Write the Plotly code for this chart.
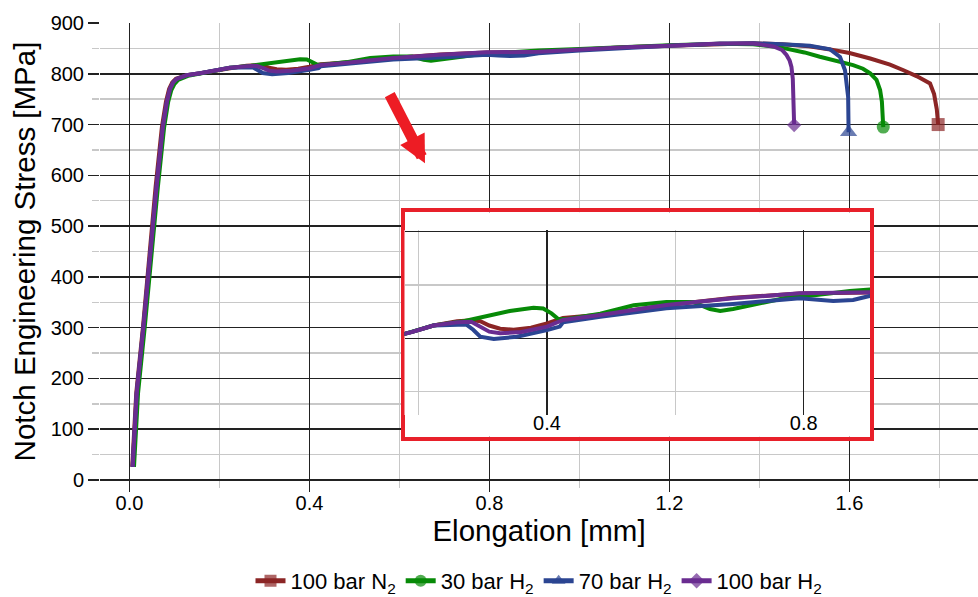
import plotly.graph_objects as go

# ---------------- data ----------------
names = ["100 bar N<sub>2</sub>", "30 bar H<sub>2</sub>", "70 bar H<sub>2</sub>", "100 bar H<sub>2</sub>"]
colors = ["#8B2525", "#078A07", "#2B4592", "#6A2C90"]
symbols = ["square", "circle", "triangle-up", "diamond"]
end_sizes = [13, 13, 15, 11]

n2_x = [0.006, 0.015, 0.030, 0.045, 0.058, 0.072, 0.081, 0.088, 0.095, 0.103, 0.127, 0.157, 0.190, 0.223,
        0.260, 0.285, 0.296, 0.310, 0.327, 0.348, 0.375, 0.400, 0.425, 0.483, 0.586, 0.690, 0.794, 0.909,
        1.000, 1.100, 1.201, 1.312, 1.386, 1.450, 1.510, 1.557, 1.600, 1.646, 1.690, 1.720, 1.750, 1.779,
        1.788, 1.794, 1.797]
n2_s = [26, 171, 302, 453, 577, 695, 745, 770, 783, 790, 797, 801, 806, 812,
        816, 817, 816, 812, 809, 808, 810, 814, 819, 822, 831, 838, 842, 843,
        848, 852, 855, 859, 860, 858, 854, 848, 841, 830, 818, 807, 795, 781,
        760, 730, 700]

h30_x = [0.010, 0.019, 0.034, 0.049, 0.063, 0.077, 0.086, 0.093, 0.100, 0.108, 0.130, 0.160, 0.190, 0.223,
         0.270, 0.301, 0.342, 0.379, 0.394, 0.407, 0.418, 0.430, 0.483, 0.535, 0.586, 0.628, 0.654, 0.670,
         0.690, 0.742, 0.773, 0.820, 0.872, 0.909, 1.000, 1.100, 1.200, 1.312, 1.386, 1.446, 1.500, 1.534,
         1.575, 1.608, 1.630, 1.646, 1.660, 1.668, 1.672, 1.674, 1.675]
h30_s = [26, 171, 302, 453, 577, 695, 745, 768, 780, 788, 796, 801, 806, 812,
         816, 820, 825.6, 828.7, 828, 823.4, 817.8, 818, 823, 831, 834, 834, 827.5, 825.6,
         827.5, 834, 838, 840.6, 844.4, 846, 849, 853, 856, 859, 858, 852, 842, 833.5,
         825, 817, 810, 801, 788, 768, 745, 725, 695]

h70_x = [0.007, 0.016, 0.031, 0.046, 0.060, 0.074, 0.083, 0.090, 0.097, 0.105, 0.127, 0.157, 0.190, 0.223,
         0.274, 0.285, 0.296, 0.317, 0.353, 0.400, 0.415, 0.420, 0.425, 0.483, 0.586, 0.690, 0.794, 0.820,
         0.846, 0.877, 0.909, 1.000, 1.100, 1.200, 1.312, 1.386, 1.450, 1.512, 1.557, 1.579, 1.590, 1.594,
         1.597, 1.598]
h70_s = [26, 171, 302, 453, 577, 695, 745, 770, 783, 790, 797, 801, 806, 812,
         813, 808, 801.5, 799.3, 801.5, 807.8, 810, 811, 815, 820.3, 828.1, 832.2, 837.5, 836,
         835, 836, 840.6, 846, 851, 855, 859, 860, 858, 855, 848, 833, 807, 780,
         754, 685]

h100_x = [0.007, 0.016, 0.031, 0.046, 0.060, 0.074, 0.083, 0.090, 0.097, 0.105, 0.127, 0.157, 0.190, 0.223,
          0.260, 0.282, 0.297, 0.310, 0.327, 0.360, 0.400, 0.425, 0.483, 0.586, 0.690, 0.794, 0.909, 1.000,
          1.100, 1.200, 1.312, 1.386, 1.431, 1.450, 1.460, 1.467, 1.471, 1.474, 1.475, 1.477]
h100_s = [26, 171, 302, 453, 577, 695, 745, 770, 783, 790, 797, 801, 806, 812,
          815, 815.6, 811, 806.2, 804.7, 806, 810.9, 817.2, 821.9, 831.2, 837.5, 842.2, 843.2, 848,
          852, 855, 859.6, 859.6, 853.8, 847, 837, 826, 813.6, 790, 761, 699]

series_x = [n2_x, h30_x, h70_x, h100_x]
series_s = [n2_s, h30_s, h70_s, h100_s]

x_ticks = [0.0, 0.4, 0.8, 1.2, 1.6]
y_ticks = [0, 100, 200, 300, 400, 500, 600, 700, 800, 900]

FONT = "Liberation Sans, Arial, sans-serif"
MAJOR = "#222222"
MINOR = "#c8c8c8"

fig = go.Figure()

# main traces
for nm, c, sym, es, xs, ss in zip(names, colors, symbols, end_sizes, series_x, series_s):
    sizes = [0] * (len(xs) - 1) + [es]
    fig.add_trace(go.Scatter(
        x=xs, y=ss, name=nm, mode="lines+markers",
        line=dict(color=c, width=4),
        marker=dict(symbol=sym, size=sizes, color=c, line=dict(width=0)),
        xaxis="x", yaxis="y", hoverinfo="skip"))

# inset traces
for c, xs, ss in zip(colors, series_x, series_s):
    fig.add_trace(go.Scatter(
        x=xs, y=ss, mode="lines", showlegend=False,
        line=dict(color=c, width=4),
        xaxis="x3", yaxis="y3", hoverinfo="skip"))

# frame subplot (empty, white, red border)
fig.add_trace(go.Scatter(x=[None], y=[None], showlegend=False, xaxis="x2", yaxis="y2"))

W, H = 978, 597
L, R, T, B = 100, 0, 23, 117
pw, ph = W - L - R, H - T - B

def px_x(p):
    return (p - L) / pw

def px_y(p):
    return (H - B - p) / ph

fx0, fx1 = px_x(404.5), px_x(870)
fy0, fy1 = px_y(436.7), px_y(212.3)
iy0, iy1 = px_y(415), px_y(230)

fig.update_layout(
    width=W, height=H,
    margin=dict(l=L, r=R, t=T, b=B, autoexpand=False),
    paper_bgcolor="white", plot_bgcolor="white",
    font=dict(family=FONT, size=20, color="black"),
    showlegend=True,
    legend=dict(orientation="h", x=0.5, xanchor="center", y=px_y(581), yanchor="middle",
                font=dict(size=22), itemsizing="constant", bgcolor="rgba(0,0,0,0)",
                tracegroupgap=0, itemwidth=30),
    xaxis=dict(
        domain=[0, 1], range=[(L - 129.5) / 450, (W - 129.5) / 450], automargin=False,
        tickvals=x_ticks, ticktext=[f"{v:.1f}" for v in x_ticks],
        showgrid=True, gridcolor=MAJOR, gridwidth=1.5,
        zeroline=False, showline=False,
        ticks="outside", ticklen=11, tickwidth=1.5, tickcolor=MAJOR, ticklabelstandoff=-6,
        minor=dict(dtick=0.2, tick0=0, showgrid=True, gridcolor=MINOR, gridwidth=1.5,
                   ticks="outside", ticklen=7, tickcolor=MINOR, tickwidth=1.5),
        title=dict(text="Elongation [mm]", font=dict(size=29.5), standoff=2),
        tickfont=dict(size=20), fixedrange=True),
    yaxis=dict(
        domain=[0, 1], range=[0, 900], automargin=False,
        tickvals=y_ticks,
        showgrid=True, gridcolor=MAJOR, gridwidth=1.5,
        zeroline=True, zerolinecolor=MAJOR, zerolinewidth=1.5, showline=False,
        ticks="outside", ticklen=11, tickwidth=1.5, tickcolor=MAJOR,
        minor=dict(dtick=50, tick0=0, showgrid=True, gridcolor=MINOR, gridwidth=1.5,
                   ticks="outside", ticklen=7, tickcolor=MINOR, tickwidth=1.5),
        title=dict(text="Notch Engineering Stress [MPa]", font=dict(size=29.5), standoff=6),
        tickfont=dict(size=20), fixedrange=True),
    xaxis2=dict(domain=[fx0, fx1], anchor="y2", range=[0, 1], showgrid=False, zeroline=False,
                showticklabels=False, ticks="", showline=True, mirror=True, automargin=False,
                linecolor="#E8202A", linewidth=4, fixedrange=True),
    yaxis2=dict(domain=[fy0, fy1], anchor="x2", range=[0, 1], showgrid=False, zeroline=False,
                showticklabels=False, ticks="", showline=True, mirror=True, automargin=False,
                linecolor="#E8202A", linewidth=4, fixedrange=True),
    xaxis3=dict(domain=[fx0, fx1], anchor="y3", automargin=False,
                range=[0.4 - (547 - 404.5) / 641.7, 0.4 + (870 - 547) / 641.7],
                tickvals=[0.4, 0.8], ticktext=["0.4", "0.8"],
                showgrid=True, gridcolor=MAJOR, gridwidth=1.5, zeroline=False, showline=False,
                ticks="", tickfont=dict(size=20), ticklabelstandoff=-6,
                minor=dict(dtick=0.2, tick0=0, showgrid=True, gridcolor=MINOR, gridwidth=1.5),
                fixedrange=True),
    yaxis3=dict(domain=[iy0, iy1], anchor="x3", automargin=False,
                range=[800 - (415 - 338.3) / 1.066, 900 + (231.7 - 230) / 1.066],
                tickvals=[800, 900], showticklabels=False,
                showgrid=True, gridcolor=MAJOR, gridwidth=1.5, zeroline=False, showline=False,
                ticks="",
                minor=dict(dtick=50, tick0=0, showgrid=True, gridcolor=MINOR, gridwidth=1.5),
                fixedrange=True),
)

# red arrow
fig.add_annotation(x=(425 - 129.5) / 450, y=(480 - 163) / 0.508, xref="x", yref="y",
                   ax=-36, ay=-70, text="", showarrow=True,
                   arrowhead=2, arrowsize=0.5, arrowwidth=11, arrowcolor="#ED1C24", standoff=0)

fig.write_html("out.html",
               config={"displayModeBar": False, "staticPlot": True},
               post_script="document.body.style.margin='0';document.body.style.overflow='hidden';")
